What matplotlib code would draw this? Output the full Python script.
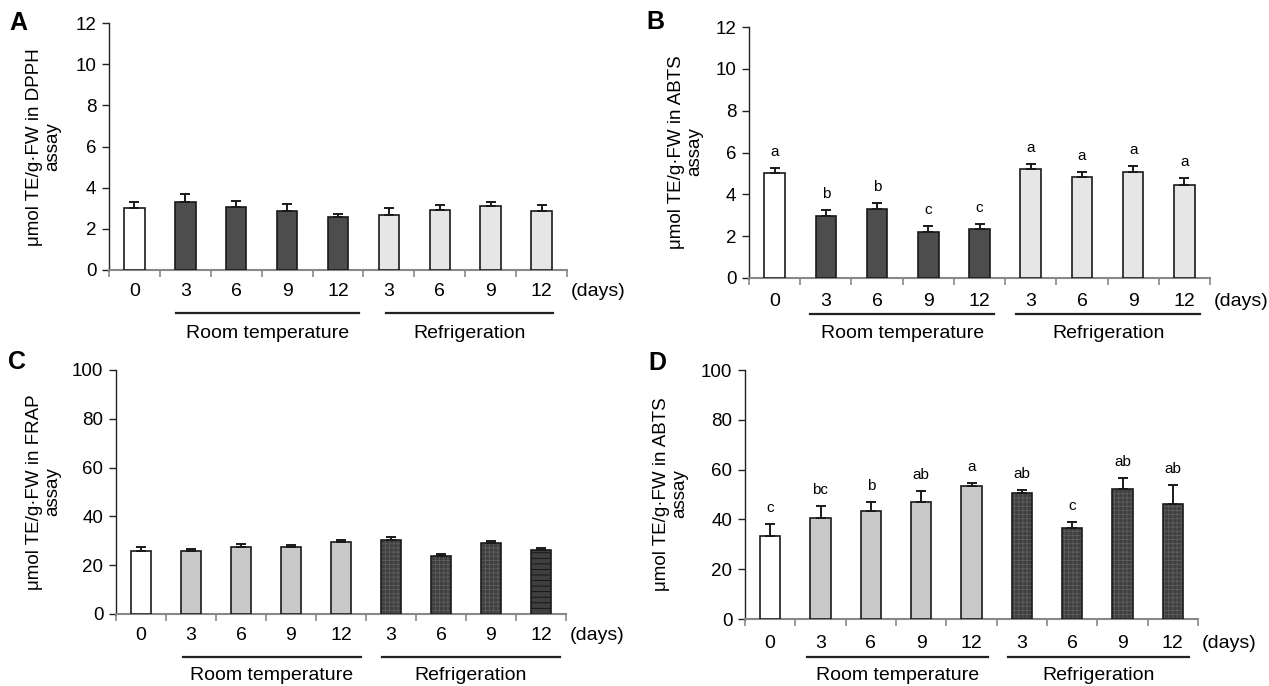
import numpy as np
import matplotlib
matplotlib.use("Agg")
import matplotlib.pyplot as plt
from matplotlib.transforms import ScaledTranslation

plt.rcParams['font.family'] = ['Liberation Sans', 'DejaVu Sans']
plt.rcParams['hatch.linewidth'] = 0.6

# x categories (days): control, room temp 3-12, refrigeration 3-12
days = ["0", "3", "6", "9", "12", "3", "6", "9", "12"]

# A: DPPH
dpph = [3.0, 3.32, 3.07, 2.88, 2.56, 2.67, 2.91, 3.09, 2.85]
dpph_err = [0.31, 0.35, 0.28, 0.32, 0.14, 0.33, 0.25, 0.23, 0.31]

# B: ABTS
abts = [5.0, 2.98, 3.31, 2.22, 2.33, 5.2, 4.81, 5.05, 4.45]
abts_err = [0.27, 0.29, 0.28, 0.25, 0.25, 0.27, 0.27, 0.32, 0.31]
abts_letters = ["a", "b", "b", "c", "c", "a", "a", "a", "a"]

# C: FRAP
frap = [26.0, 25.8, 27.6, 27.5, 29.4, 30.2, 23.9, 29.0, 26.2]
frap_err = [1.5, 0.8, 0.9, 0.6, 0.9, 1.4, 0.6, 0.8, 0.7]

# D: ABTS (2nd)
abts2 = [33.3, 40.5, 43.5, 46.8, 53.3, 50.8, 36.5, 52.1, 46.0]
abts2_err = [4.8, 4.9, 3.4, 4.5, 1.2, 1.1, 2.6, 4.4, 7.9]
abts2_letters = ["c", "bc", "b", "ab", "a", "ab", "c", "ab", "ab"]

W, H = 1269, 686
fig = plt.figure(figsize=(W / 100, H / 100), dpi=100)
PT = 0.72  # px -> points at dpi 100


def make_ax(l, r, t, b):
    return fig.add_axes([l / W, 1 - b / H, (r - l) / W, (b - t) / H])


def draw_panel(ax, vals, errs, styles, ymax, ystep, groups, letters=None,
               tick_dy=22, line_dy=40, text_dy=60):
    x = np.arange(len(vals))
    for i in x:
        fc, hatch, hc = styles[i]
        if hatch:
            ax.bar(i, vals[i], width=0.40, color=fc, hatch=hatch,
                   edgecolor=hc, linewidth=0, zorder=2)
            ax.bar(i, vals[i], width=0.40, fill=False, edgecolor="#1a1a1a",
                   linewidth=1.2, zorder=3)
        else:
            ax.bar(i, vals[i], width=0.40, color=fc, edgecolor="#1a1a1a",
                   linewidth=1.2, zorder=3)
    ax.errorbar(x, vals, yerr=[np.zeros(len(vals)), errs], fmt="none",
                ecolor="#1a1a1a", elinewidth=1.4, capsize=3.3, capthick=1.4,
                zorder=4)
    if letters:
        for i in x:
            ax.annotate(letters[i], (i, vals[i] + errs[i]),
                        xytext=(0, 16 * PT), textcoords="offset points",
                        ha="center", va="center", fontsize=11)

    ax.set_xlim(-0.5, len(vals) - 0.5)
    ax.set_ylim(0, ymax)
    ax.set_yticks(np.arange(0, ymax + 0.1, ystep))
    ax.set_xticks(np.arange(-0.5, len(vals), 1.0))
    ax.set_xticklabels([])
    ax.tick_params(axis="x", direction="out", length=5, color="#888888",
                   width=1.2)
    ax.tick_params(axis="y", direction="out", length=5, color="#222222",
                   width=1.0, labelsize=13.5, pad=4)
    for s in ["top", "right"]:
        ax.spines[s].set_visible(False)
    ax.spines["left"].set_color("#222222")
    ax.spines["left"].set_linewidth(1.0)
    ax.spines["bottom"].set_color("#888888")
    ax.spines["bottom"].set_linewidth(1.5)

    tr = ax.get_xaxis_transform()
    for i, d in enumerate(days):
        ax.annotate(d, (i, 0), xycoords=tr, xytext=(0, -tick_dy * PT),
                    textcoords="offset points", ha="center", va="center",
                    fontsize=14, annotation_clip=False)
    ax.annotate("(days)", (len(vals) - 0.42, 0), xycoords=tr,
                xytext=(0, -tick_dy * PT), textcoords="offset points",
                ha="left", va="center", fontsize=14, annotation_clip=False)

    for (x0, x1), name in zip(groups, ["Room temperature", "Refrigeration"]):
        line = plt.Line2D([x0, x1], [0, 0], color="#222222", linewidth=1.6,
                          clip_on=False)
        line.set_transform(tr + ScaledTranslation(0, -line_dy / 100,
                                                  fig.dpi_scale_trans))
        ax.add_line(line)
        ax.annotate(name, ((x0 + x1) / 2, 0), xycoords=tr,
                    xytext=(0, -text_dy * PT), textcoords="offset points",
                    ha="center", va="center", fontsize=14,
                    annotation_clip=False)


white = ("white", None, None)
dark = ("#4d4d4d", None, None)
light = ("#e6e6e6", None, None)
lightg = ("#c9c9c9", None, None)
grid = ("#3f3f3f", "++++", "#5e5e5e")
hlines = ("#3f3f3f", "---", "#111111")

ab_styles = [white] + [dark] * 4 + [light] * 4
cd_styles = [white] + [lightg] * 4 + [grid] * 3
c_styles = cd_styles + [hlines]
d_styles = cd_styles + [grid]

axA = make_ax(109, 567, 23, 270)
draw_panel(axA, dpph, dpph_err, ab_styles, 12, 2,
           [(0.81, 4.42), (4.94, 8.23)],
           tick_dy=22, line_dy=43, text_dy=64)
axB = make_ax(749, 1210, 27, 278)
draw_panel(axB, abts, abts_err, ab_styles, 12, 2,
           [(0.70, 4.28), (4.72, 8.31)], letters=abts_letters,
           tick_dy=24, line_dy=36, text_dy=55)
axC = make_ax(116, 566, 370, 614)
draw_panel(axC, frap, frap_err, c_styles, 100, 20,
           [(0.83, 4.40), (4.82, 8.37)],
           tick_dy=22, line_dy=43, text_dy=61)
axD = make_ax(745, 1198, 370, 619)
draw_panel(axD, abts2, abts2_err, d_styles, 100, 20,
           [(0.73, 4.32), (4.73, 8.33)], letters=abts2_letters,
           tick_dy=24, line_dy=38, text_dy=56)

ylabs = [("μmol TE/g·FW in DPPH\nassay", 44, 147),
         ("μmol TE/g·FW in ABTS\nassay", 686, 152),
         ("μmol TE/g·FW in FRAP\nassay", 44, 492),
         ("μmol TE/g·FW in ABTS\nassay", 671, 494)]
for txt, px, py in ylabs:
    fig.text(px / W, 1 - py / H, txt, rotation=90, ha="center", va="center",
             fontsize=13.5, linespacing=1.1)

for lab, px, py in [("A", 18, 23), ("B", 655, 22), ("C", 17, 362),
                    ("D", 657, 363)]:
    fig.text(px / W, 1 - py / H, lab, ha="center", va="center",
             fontsize=18, fontweight="bold")

fig.savefig("out.png", dpi=100)
